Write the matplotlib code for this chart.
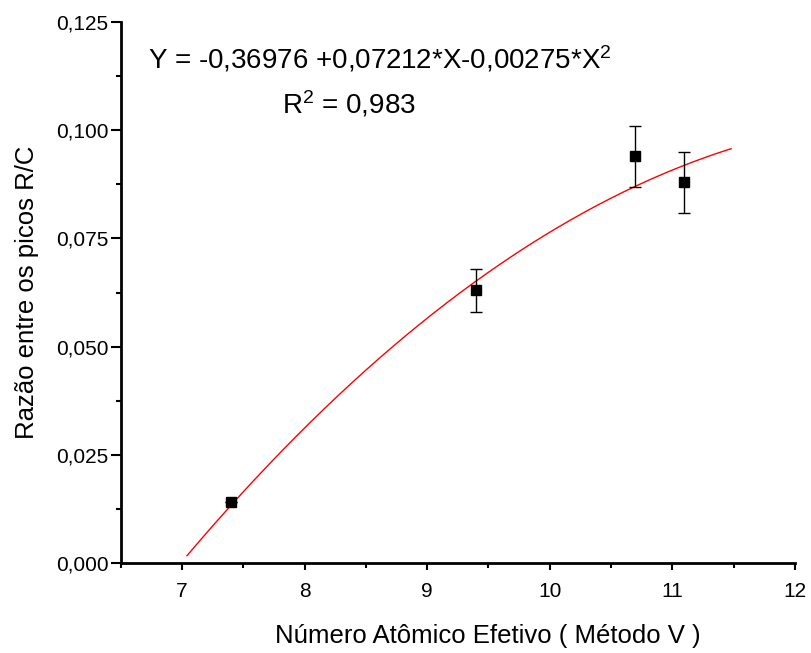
import numpy as np
import matplotlib
matplotlib.use('Agg')
import matplotlib.pyplot as plt
from matplotlib.ticker import FuncFormatter, MultipleLocator

plt.rcParams['font.family'] = ['Liberation Sans', 'DejaVu Sans']
plt.rcParams['mathtext.fontset'] = 'custom'
plt.rcParams['mathtext.rm'] = 'Liberation Sans'
plt.rcParams['mathtext.it'] = 'Liberation Sans'

# ── Data ──────────────────────────────────────────────────────────────────────
z_eff = [7.4, 9.4, 10.7, 11.1]
ratio_rc = [0.014, 0.063, 0.094, 0.088]
ratio_err = [0.0, 0.005, 0.007, 0.007]

# quadratic fit shown on the chart: Y = A + B*X + C*X^2
fit_coef = [-0.36976, 0.07212, -0.00275]
fit_xmin, fit_xmax = 7.04, 11.48
r_squared = 0.983

# ── Plot ──────────────────────────────────────────────────────────────────────
fig = plt.figure(figsize=(8.11, 6.53), dpi=100)
ax = fig.add_axes([0.149, 0.138, 0.831, 0.828])

xf = np.linspace(fit_xmin, fit_xmax, 200)
yf = fit_coef[0] + fit_coef[1] * xf + fit_coef[2] * xf ** 2
ax.plot(xf, yf, color='red', lw=1.0, zorder=2)

ax.errorbar(z_eff, ratio_rc, yerr=ratio_err, fmt='s', color='black',
            ms=7, ecolor='black', elinewidth=1.0, capsize=4, capthick=1.0,
            zorder=3)

ax.set_xlim(6.5, 12)
ax.set_ylim(0, 0.125)
ax.xaxis.set_major_locator(MultipleLocator(1))
ax.xaxis.set_minor_locator(MultipleLocator(0.5))
ax.yaxis.set_major_locator(MultipleLocator(0.025))
ax.yaxis.set_minor_locator(MultipleLocator(0.0125))
ax.yaxis.set_major_formatter(FuncFormatter(lambda v, p: f'{v:.3f}'.replace('.', ',')))

for side in ['top', 'right']:
    ax.spines[side].set_visible(False)
for side in ['left', 'bottom']:
    ax.spines[side].set_linewidth(2.0)

ax.tick_params(which='major', direction='out', width=1.5, labelsize=15)
ax.tick_params(axis='y', which='major', length=7, pad=2)
ax.tick_params(axis='x', which='major', length=5, pad=9)
ax.tick_params(which='minor', direction='out', length=3.5, width=1.5)

ax.set_xlabel('Número Atômico Efetivo ( Método V )', fontsize=18.5,
              labelpad=16, x=0.545)
ax.set_ylabel('Razão entre os picos R/C', fontsize=18.5, labelpad=12)

ax.text(0.040, 0.932, 'Y = -0,36976 +0,07212*X-0,00275*X$^{2}$',
        transform=ax.transAxes, fontsize=20, ha='left', va='center')
ax.text(0.338, 0.848, 'R$^{2}$ = ' + f'{r_squared:.3f}'.replace('.', ','),
        transform=ax.transAxes, fontsize=20, ha='center', va='center')

plt.savefig('out.png', dpi=100)
plt.close()
